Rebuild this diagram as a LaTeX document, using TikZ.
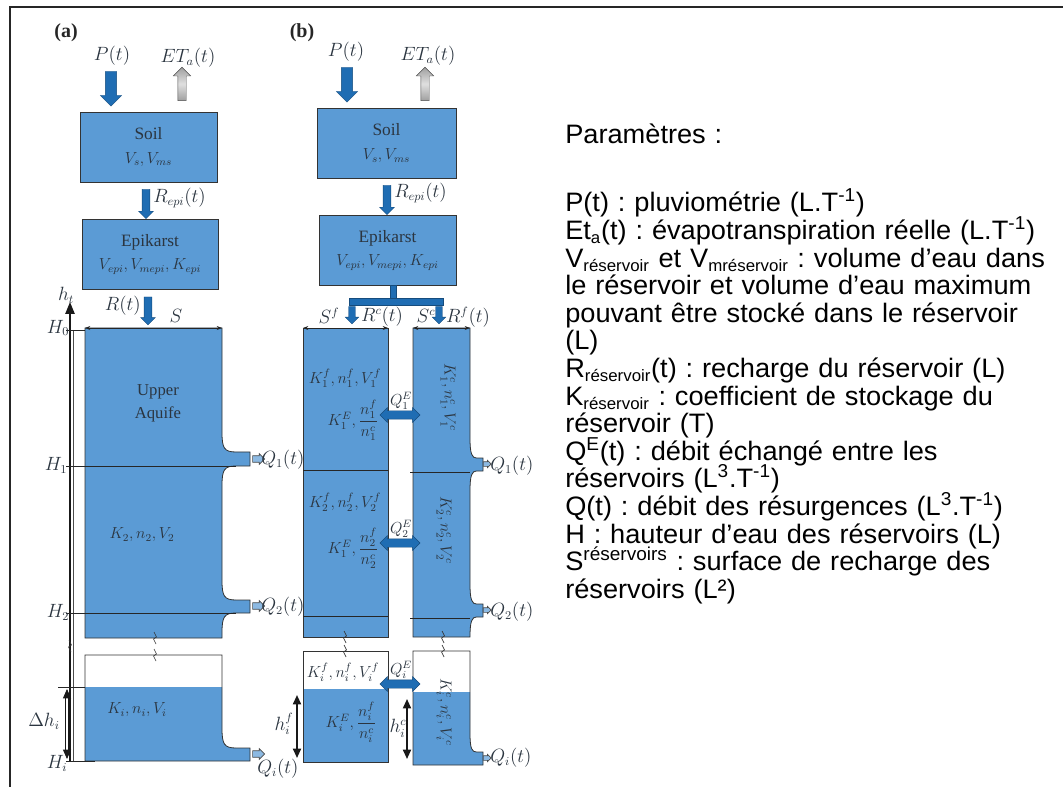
\documentclass[tikz,border=0pt]{standalone}
\usepackage{fontspec}
\setmainfont{Liberation Serif}
\newfontfamily\paramfont[FakeStretch=1.02]{Liberation Sans}
\usetikzlibrary{arrows.meta,shapes.arrows}

\definecolor{boxblue}{HTML}{5B9BD5}
\definecolor{flowblue}{HTML}{1F6DB3}
\definecolor{inkgray}{HTML}{2B3540}

% right edge, spout top, spout bottom, spout tip
\newcommand{\spout}[4]{-- (#1,#2-20) .. controls (#1,#2-4) and (#1+2,#2) .. ({(#1+#4)/2},#2) -- (#4,#2) -- (#4,#3) -- ({(#1+#4)/2},#3) .. controls (#1+2,#3) and (#1,#3+4) .. (#1,#3+20)}
\newcommand{\lowtext}[1]{\textsubscript{\fontsize{12.4}{12.4}\selectfont #1}}

\tikzset{
  store/.style={draw=black!80, fill=boxblue, line width=0.6pt, inner sep=0pt, align=center, text=inkgray, font=\fontsize{11.5}{13}\selectfont},
  resv/.style={draw=black!80, fill=boxblue, line width=0.6pt},
  edge/.style={draw=black!80, line width=0.6pt},
  lab/.style={inner sep=0pt, text=inkgray, font=\fontsize{13.5}{15}\selectfont},
  inlab/.style={inner sep=0pt, text=inkgray, font=\fontsize{11.5}{13}\selectfont},
  blockarrow/.style={single arrow, inner xsep=0pt, line width=0.3pt, single arrow tip angle=90},
  rain/.style={blockarrow, rotate=-90, fill=flowblue, draw=flowblue!70!black},
  evap/.style={blockarrow, rotate=90, draw=black!70, top color=gray!75, bottom color=gray!75, middle color=gray!25},
  exch/.style={double arrow, inner xsep=0pt, inner ysep=3pt, line width=0.3pt, fill=flowblue, draw=flowblue!70!black, minimum height=30pt, double arrow head extend=2.4pt, double arrow tip angle=90},
  outlet/.style={blockarrow, fill=boxblue!70!white, draw=black!70, line width=0.5pt},
  hline/.style={black!85, line width=0.6pt},
  dim/.style={{Stealth[length=4pt,width=3pt]}-{Stealth[length=4pt,width=3pt]}, black!85, line width=0.5pt},
  hdbl/.style={{Triangle[length=7pt,width=6pt]}-{Triangle[length=7pt,width=6pt]}, black!90, line width=1.3pt},
  brk/.style={black!80, line width=0.5pt},
  paramtext/.style={inner sep=0pt, text width=362pt, align=left, font=\paramfont\fontsize{20}{20.7}\selectfont},
}

\begin{document}
\begin{tikzpicture}[x=0.75pt,y=-0.75pt]
  \useasboundingbox (0,0) rectangle (1063,787);
  \draw[line width=2pt, black!85] (1063,7) -- (10,7) -- (10,787);

  % ---- panel (a) ----
  \node[font=\bfseries\fontsize{15}{17}\selectfont, text=black!85] (taga) at (66,33) {(a)};
  \node[lab] (pa) at (112,56) {$P(t)$};
  \node[rain, minimum height=26pt, inner ysep=4.1pt, single arrow head extend=3.75pt] (raina) at (111,86) {};
  \node[lab] (eta) at (188,58) {$ET_a(t)$};
  \node[evap, minimum height=25pt, inner ysep=3pt, single arrow head extend=3.4pt] (evapa) at (182,86) {};
  \node[store, minimum width=102.75pt, minimum height=52.5pt] (soila) at (148.5,147) {{\fontsize{13}{15}\selectfont Soil}\\[5pt]$V_s, V_{ms}$};
  \node[rain, minimum height=22pt, inner ysep=2.8pt, single arrow head extend=2.6pt] (repia) at (146,202) {};
  \node[lab, anchor=west] (repilaba) at (153,198) {$R_{epi}(t)$};
  \node[store, minimum width=102pt, minimum height=53pt] (epia) at (150,254.5) {{\fontsize{13}{15}\selectfont Epikarst}\\[4pt]$V_{epi}, V_{mepi}, K_{epi}$};
  \node[rain, minimum height=21pt, inner ysep=2.8pt, single arrow head extend=2.6pt] (recha) at (148,309) {};
  \node[lab, anchor=east] (rechlaba) at (141,306) {$R(t)$};

  % reservoirs (a)
  \filldraw[resv] (85,328) -- (222,328) \spout{222}{452}{466}{250} \spout{222}{600}{613}{250} -- (222,638) -- (85,638) -- cycle;
  \fill[boxblue] (85,687) -- (222,687) -- (222,728) .. controls (222,744) and (224,748) .. (236,748) -- (250,748) -- (250,761) -- (85,761) -- cycle;
  \draw[edge] (85,761) -- (85,655) -- (222,655) -- (222,728) .. controls (222,744) and (224,748) .. (236,748) -- (250,748) -- (250,761) -- cycle;

  \coordinate (axbot) at (70,761);
  \coordinate (axtop) at (70,302);
  \draw[-{Triangle[length=9pt,width=7pt]}, line width=1.1pt, black!90] (axbot) -- (axtop);
  \draw[black!70, line width=0.4pt] (73,330) -- (73,761);
  \draw[hline] (66,330) -- (85,330);
  \draw[hline] (66,466) -- (236,466);
  \draw[hline] (66,613) -- (236,613);
  \draw[hline] (66,761) -- (95,761);
  \draw[hline] (58,687) -- (85,687);
  \draw[dim] (85,328) -- (222,328);
  \draw[hdbl, double=white, double distance=1.2pt, line width=0.6pt] (67,689) -- (67,759);

  \node[lab] (hta) at (66,295) {$h_t$};
  \node[lab] (hzero) at (58,328) {$H_0$};
  \node[lab] (hone) at (56,465) {$H_1$};
  \node[lab] (htwo) at (58,612) {$H_2$};
  \node[lab] (hia) at (57,763) {$H_i$};
  \node[lab] (dhia) at (44,721) {$\Delta h_i$};
  \node[lab] (sa) at (176,316) {$S$};
  \node[inlab, align=center, font=\fontsize{12.5}{17}\selectfont] (uppera) at (158,403) {Upper\\Aquife};
  \node[inlab] (k2a) at (142,535) {$K_2, n_2, V_2$};
  \node[inlab] (kia) at (137,710) {$K_i, n_i, V_i$};

  \node[outlet, minimum height=9pt, inner ysep=2.2pt, single arrow head extend=1.6pt] (outa1) at (257,459) {};
  \node[lab, anchor=west] (qa1) at (261,460) {$Q_1(t)$};
  \node[outlet, minimum height=9pt, inner ysep=2.2pt, single arrow head extend=1.6pt] (outa2) at (257,606) {};
  \node[lab, anchor=west] (qa2) at (261,607) {$Q_2(t)$};
  \node[outlet, minimum height=9pt, inner ysep=2.2pt, single arrow head extend=1.6pt] (outai) at (257,754) {};
  \node[lab, anchor=west] (qai) at (257,769) {$Q_i(t)$};

  % ---- panel (b) ----
  \node[font=\bfseries\fontsize{15}{17}\selectfont, text=black!85] (tagb) at (302,33) {(b)};
  \node[lab] (pb) at (346,52) {$P(t)$};
  \node[rain, minimum height=26pt, inner ysep=4.1pt, single arrow head extend=3.75pt] (rainb) at (347,82) {};
  \node[lab] (etb) at (428,56) {$ET_a(t)$};
  \node[evap, minimum height=25pt, inner ysep=3pt, single arrow head extend=3.4pt] (evapb) at (425,86) {};
  \node[store, minimum width=104.25pt, minimum height=53pt] (soilb) at (386.5,143.5) {{\fontsize{13}{15}\selectfont Soil}\\[5pt]$V_s, V_{ms}$};
  \node[rain, minimum height=22pt, inner ysep=2.8pt, single arrow head extend=2.6pt] (repib) at (387,198) {};
  \node[lab, anchor=west] (repilabb) at (394,193) {$R_{epi}(t)$};
  \node[store, minimum width=102.75pt, minimum height=52pt] (epib) at (387.5,250.5) {{\fontsize{13}{15}\selectfont Epikarst}\\[4pt]$V_{epi}, V_{mepi}, K_{epi}$};

  % splitter
  \filldraw[fill=flowblue, draw=flowblue!70!black, line width=0.3pt] (390,285) rectangle (396,298);
  \filldraw[fill=flowblue, draw=flowblue!70!black, line width=0.3pt] (349,298) rectangle (443,305);
  \node[rain, minimum height=13pt, inner ysep=2.3pt, single arrow head extend=2.6pt] (splitf) at (352,313.5) {};
  \node[rain, minimum height=13pt, inner ysep=2.3pt, single arrow head extend=2.6pt] (splitc) at (439,313.5) {};

  % reservoirs (b)
  \filldraw[resv] (303,328) rectangle (388,637);
  \filldraw[resv] (413,328) -- (470,328) \spout{470}{458}{471}{483} \spout{470}{604}{617}{483} -- (470,637) -- (413,637) -- cycle;
  \fill[boxblue] (303,689) rectangle (388,762);
  \draw[edge] (303,651) rectangle (388,762);
  \fill[boxblue] (413,692) -- (470,692) -- (470,733) .. controls (470,749) and (472,752) .. (476.5,752) -- (483,752) -- (483,765) -- (413,765) -- cycle;
  \draw[edge] (413,765) -- (413,651) -- (470,651) -- (470,733) .. controls (470,749) and (472,752) .. (476.5,752) -- (483,752) -- (483,765) -- cycle;

  \draw[hline] (303,470) -- (388,470);
  \draw[hline] (410,472) -- (470,472);
  \draw[hline] (303,616) -- (388,616);
  \draw[hline] (410,618) -- (470,618);
  \draw[dim] (303,328) -- (388,328);
  \draw[dim] (413,328) -- (470,328);
  \draw[hdbl] (297,695) -- (297,758);
  \draw[hdbl] (407,699) -- (407,759);

  \foreach \x/\y in {155/638,155/655,345/637,345/651,443/637,443/651,70/646} {
      \draw[brk] (\x-1,\y-6) -- (\x+1.5,\y-1) -- (\x-1.5,\y+1) -- (\x+1,\y+6);
    }

  \node[lab] (sfb) at (329,316) {$S^f$};
  \node[lab] (rcb) at (382,317) {$R^c(t)$};
  \node[lab] (scb) at (426,316) {$S^c$};
  \node[lab] (rfb) at (468,317) {$R^f(t)$};

  \node[inlab] (kf1) at (345,378) {$K^f_1, n^f_1, V^f_1$};
  \node[inlab] (ke1) at (353,420) {$K^E_1, \displaystyle{n^f_1 \over n^c_1}$};
  \node[inlab, rotate=-90] (kc1) at (448,397) {$K^c_1, n^c_1, V^c_1$};
  \node[inlab] (kf2) at (345,502) {$K^f_2, n^f_2, V^f_2$};
  \node[inlab] (ke2) at (353,548) {$K^E_1, \displaystyle{n^f_2 \over n^c_2}$};
  \node[inlab, rotate=-90] (kc2) at (444,530) {$K^c_2, n^c_2, V^c_2$};
  \node[inlab] (kfi) at (343,672) {$K^f_i, n^f_i, V^f_i$};
  \node[inlab] (kei) at (351,722) {$K^E_i, \displaystyle{n^f_i \over n^c_i}$};
  \node[inlab, rotate=-90] (kci) at (444,712) {$K^c_i, n^c_i, V^c_i$};

  \node[exch] (qe1) at (400,415) {};
  \node[inlab] (qe1lab) at (401,401) {$Q^E_1$};
  \node[exch] (qe2) at (400,543) {};
  \node[inlab] (qe2lab) at (401,529) {$Q^E_2$};
  \node[exch] (qei) at (400,684) {};
  \node[inlab] (qeilab) at (401,670) {$Q^E_i$};

  \node[lab] (hfi) at (284,724) {$h^f_i$};
  \node[lab] (hci) at (398,728) {$h^c_i$};

  \node[outlet, minimum height=6pt, inner ysep=1.5pt, single arrow head extend=1pt] (outb1) at (486,464) {};
  \node[lab, anchor=west] (qb1) at (490,466) {$Q_1(t)$};
  \node[outlet, minimum height=6pt, inner ysep=1.5pt, single arrow head extend=1pt] (outb2) at (486,610) {};
  \node[lab, anchor=west] (qb2) at (490,612) {$Q_2(t)$};
  \node[outlet, minimum height=6pt, inner ysep=1.5pt, single arrow head extend=1pt] (outbi) at (486,758) {};
  \node[lab, anchor=west] (qbi) at (490,758) {$Q_i(t)$};

  % ---- parameters ----
  \node[paramtext, anchor=north west] (params) at (565,124) {%
    \frenchspacing\lineskiplimit=-100pt\relax
    Paramètres :\\[30.3pt]
    P(t) : pluviométrie (L.T\textsuperscript{-1})\\
    Et\lowtext{a}(t) : évapotranspiration réelle (L.T\textsuperscript{-1})\\
    \makebox[362pt][s]{V\lowtext{réservoir} et V\lowtext{mréservoir} : volume d’eau dans}\\
    \makebox[362pt][s]{le réservoir et volume d’eau maximum}\\
    \makebox[362pt][s]{pouvant être stocké dans le réservoir}\\
    (L)\\
    R\lowtext{réservoir}(t) : recharge du réservoir (L)\\
    K\lowtext{réservoir} : coefficient de stockage du\\
    réservoir (T)\\
    Q\textsuperscript{E}(t) : débit échangé entre les\\
    réservoirs (L\textsuperscript{3}.T\textsuperscript{-1})\\
    Q(t) : débit des résurgences (L\textsuperscript{3}.T\textsuperscript{-1})\\
    H : hauteur d’eau des réservoirs (L)\\
    S\textsuperscript{réservoirs} : surface de recharge des\\
    réservoirs (L²)};
\end{tikzpicture}
\end{document}
